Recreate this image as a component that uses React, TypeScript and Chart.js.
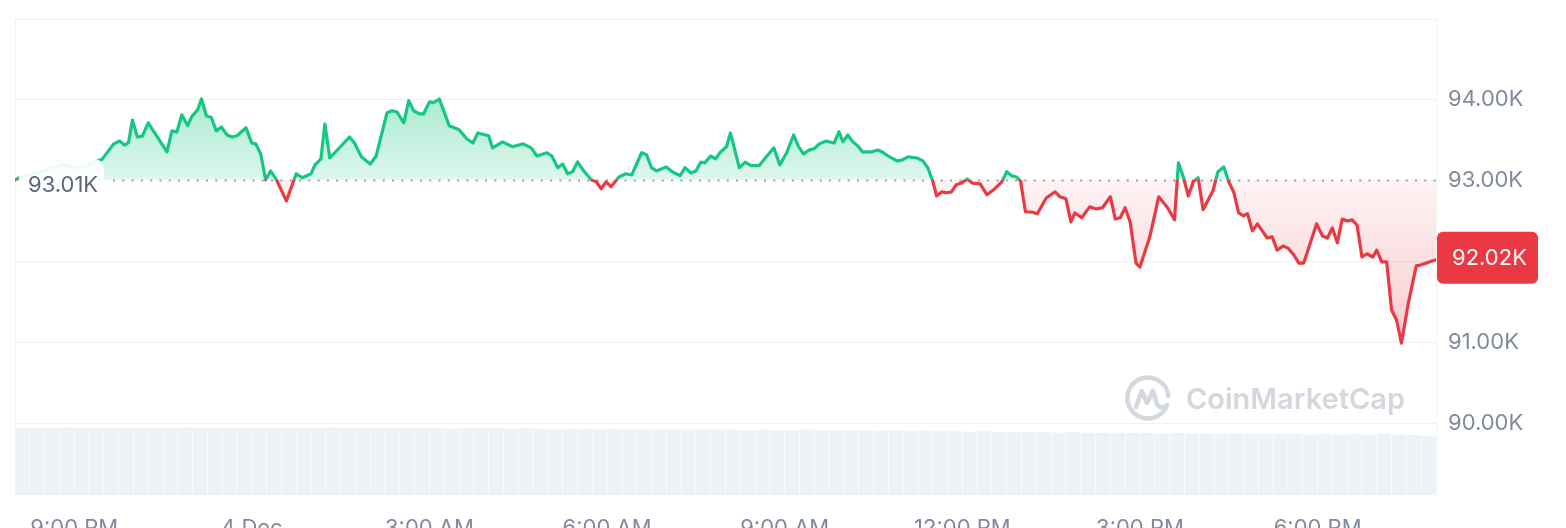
import React, { useEffect, useRef } from 'react';
import { Chart, registerables } from 'chart.js';

Chart.register(...registerables);

const GREEN = '#16c784';
const RED = '#ea3943';
const GRID = '#eff2f5';
const AXIS_TEXT = '#808a9d';
const FONT = 'Inter, "Noto Sans", sans-serif';

// minutes since 3 Dec 8:00 PM
const timeMinutes = [
  0, 9, 24, 39, 49, 63, 75, 82, 88, 100,
  106, 111, 115, 119, 124, 129, 135, 154, 159, 164,
  169, 175, 179, 185, 189, 194, 199, 204, 209, 215,
  220, 225, 234, 240, 244, 249, 254, 259, 265, 275,
  285, 291, 300, 304, 310, 314, 319, 339, 344, 351,
  360, 366, 377, 382, 387, 394, 399, 404, 410, 414,
  420, 424, 430, 440, 450, 458, 464, 469, 480, 484,
  494, 504, 515, 523, 529, 539, 544, 550, 555, 560,
  565, 570, 577, 584, 589, 594, 599, 604, 612, 619,
  625, 635, 640, 645, 650, 660, 666, 674, 679, 685,
  690, 695, 699, 705, 710, 715, 721, 725, 734, 740,
  746, 754, 762, 769, 775, 782, 789, 794, 799, 805,
  810, 815, 822, 830, 835, 839, 844, 849, 854, 859,
  868, 874, 879, 886, 894, 899, 905, 914, 920, 925,
  930, 934, 939, 944, 949, 954, 959, 965, 970, 978,
  985, 993, 1000, 1005, 1010, 1015, 1019, 1024, 1031, 1036,
  1045, 1054, 1059, 1065, 1070, 1074, 1081, 1089, 1096, 1102,
  1110, 1115, 1120, 1125, 1130, 1136, 1140, 1150, 1159, 1168,
  1175, 1179, 1184, 1189, 1194, 1199, 1204, 1214, 1219, 1225,
  1230, 1235, 1240, 1245, 1249, 1254, 1259, 1269, 1274, 1279,
  1285, 1290, 1296, 1301, 1306, 1319, 1325, 1330, 1335, 1340,
  1345, 1350, 1355, 1360, 1365, 1370, 1376, 1380, 1385, 1390,
  1395, 1400, 1405, 1412, 1420, 1424, 1440,
];

// price in thousands USD
const prices = [
  93.01, 93.06, 93.1, 93.16, 93.2, 93.15, 93.19, 93.245, 93.26, 93.455,
  93.49, 93.44, 93.47, 93.75, 93.54, 93.55, 93.715, 93.355, 93.615, 93.6,
  93.815, 93.68, 93.79, 93.875, 94.01, 93.8, 93.78, 93.615, 93.665, 93.565,
  93.54, 93.555, 93.655, 93.465, 93.455, 93.33, 93.01, 93.12, 93.01, 92.75,
  93.085, 93.035, 93.085, 93.195, 93.27, 93.7, 93.28, 93.54, 93.465, 93.295,
  93.205, 93.305, 93.84, 93.865, 93.85, 93.715, 93.99, 93.865, 93.825, 93.825,
  93.975, 93.965, 94.01, 93.68, 93.63, 93.515, 93.465, 93.59, 93.555, 93.405,
  93.48, 93.42, 93.455, 93.405, 93.305, 93.345, 93.305, 93.16, 93.205, 93.085,
  93.11, 93.23, 93.11, 93.01, 92.985, 92.9, 92.985, 92.925, 93.045, 93.085,
  93.07, 93.345, 93.32, 93.16, 93.12, 93.17, 93.11, 93.06, 93.16, 93.095,
  93.12, 93.23, 93.22, 93.305, 93.27, 93.355, 93.42, 93.59, 93.16, 93.23,
  93.185, 93.185, 93.305, 93.405, 93.195, 93.345, 93.565, 93.42, 93.33, 93.38,
  93.395, 93.455, 93.49, 93.465, 93.605, 93.48, 93.565, 93.48, 93.43, 93.355,
  93.355, 93.38, 93.355, 93.295, 93.245, 93.255, 93.295, 93.28, 93.245, 93.16,
  92.995, 92.81, 92.86, 92.85, 92.86, 92.95, 92.97, 93.02, 92.97, 92.96,
  92.825, 92.9, 92.985, 93.11, 93.06, 93.045, 92.995, 92.615, 92.61, 92.59,
  92.785, 92.86, 92.8, 92.775, 92.49, 92.6, 92.54, 92.675, 92.65, 92.665,
  92.8, 92.525, 92.54, 92.665, 92.49, 91.98, 91.93, 92.305, 92.8, 92.665,
  92.515, 93.22, 93.045, 92.81, 92.985, 93.035, 92.64, 92.875, 93.11, 93.17,
  92.985, 92.86, 92.6, 92.565, 92.59, 92.38, 92.465, 92.29, 92.305, 92.14,
  92.19, 92.165, 92.08, 91.98, 91.98, 92.465, 92.315, 92.29, 92.415, 92.23,
  92.525, 92.5, 92.515, 92.45, 92.055, 92.095, 92.055, 92.14, 91.995, 91.995,
  91.4, 91.275, 90.99, 91.485, 91.945, 91.955, 92.02,
];

// trading volume per 15-minute interval (relative units)
const volumeIntervalMinutes = 15;
const volumes = [
  141, 140, 141, 142, 141, 140, 141, 141, 140, 141, 141, 142, 140, 141, 141, 140,
  141, 140, 141, 141, 140, 142, 141, 140, 141, 140, 141, 141, 140, 139, 140, 141,
  140, 139, 140, 139, 138, 139, 139, 138, 139, 138, 138, 137, 138, 137, 138, 137,
  137, 136, 137, 136, 136, 137, 136, 135, 136, 135, 135, 136, 134, 135, 134, 134,
  133, 134, 133, 132, 133, 132, 131, 132, 131, 130, 131, 130, 130, 129, 130, 129,
  129, 128, 129, 128, 128, 129, 128, 127, 128, 127, 128, 127, 128, 127, 126, 124,
];

const xTickMinutes = [60, 240, 420, 600, 780, 960, 1140, 1320];
const xTickLabels = ['9:00 PM', '4 Dec', '3:00 AM', '6:00 AM', '9:00 AM', '12:00 PM', '3:00 PM', '6:00 PM'];
const yTickValues = [90, 91, 92, 93, 94, 95];
const hiddenYTick = 95;
const openPrice = 93.01;
const lastPrice = 92.02;
const watermarkText = 'CoinMarketCap';

const fmtK = (v: number) => v.toFixed(2) + 'K';

const overlayPlugin = {
  id: 'cmcOverlay',
  beforeDatasetsDraw(chart: any) {
    const { ctx, chartArea: a, scales } = chart;
    const y0 = Math.round(scales.y.getPixelForValue(openPrice)) + 0.5;
    ctx.save();
    // left frame line
    ctx.strokeStyle = GRID;
    ctx.lineWidth = 1;
    ctx.beginPath();
    ctx.moveTo(a.left + 0.5, a.top);
    ctx.lineTo(a.left + 0.5, a.bottom);
    ctx.stroke();

    // watermark
    const wmColor = '#d3d8df';
    ctx.font = `600 29px ${FONT}`;
    ctx.fillStyle = wmColor;
    ctx.textAlign = 'right';
    ctx.textBaseline = 'middle';
    const tx = a.right - 31;
    const ty = 400;
    ctx.fillText(watermarkText, tx, ty);
    const tw = ctx.measureText(watermarkText).width;
    const cx = tx - tw - 38;
    const cy = 398;
    ctx.strokeStyle = wmColor;
    ctx.lineWidth = 4.5;
    ctx.lineCap = 'round';
    ctx.lineJoin = 'round';
    ctx.beginPath();
    ctx.arc(cx, cy, 20.5, 0.15 * Math.PI, 1.97 * Math.PI);
    ctx.stroke();
    ctx.beginPath();
    ctx.moveTo(cx - 12, cy + 9);
    ctx.lineTo(cx - 6, cy - 7);
    ctx.lineTo(cx - 1, cy + 5);
    ctx.lineTo(cx + 5, cy - 7);
    ctx.lineTo(cx + 9, cy + 6);
    ctx.quadraticCurveTo(cx + 13, cy + 12, cx + 19, cy + 7);
    ctx.stroke();

    // dotted reference line at opening price
    ctx.setLineDash([2, 7.3]);
    ctx.lineCap = 'butt';
    ctx.strokeStyle = '#9aa1ab';
    ctx.lineWidth = 2;
    ctx.beginPath();
    ctx.moveTo(a.left + 98, y0);
    ctx.lineTo(a.right, y0);
    ctx.stroke();
    ctx.restore();
  },
  afterDatasetsDraw(chart: any) {
    const { ctx, chartArea: a, scales } = chart;
    const y0 = scales.y.getPixelForValue(openPrice);
    const text = fmtK(openPrice);
    ctx.save();
    ctx.font = `22px ${FONT}`;
    const tw = ctx.measureText(text).width;
    ctx.fillStyle = 'rgba(255,255,255,0.93)';
    ctx.beginPath();
    ctx.roundRect(a.left + 4, y0 - 21, tw + 15, 48, 10);
    ctx.fill();
    ctx.fillStyle = '#58667e';
    ctx.textAlign = 'left';
    ctx.textBaseline = 'middle';
    ctx.fillText(text, a.left + 13, y0 + 6);
    ctx.restore();
  },
  afterDraw(chart: any) {
    const { ctx, chartArea: a, scales } = chart;
    const yl = scales.y.getPixelForValue(lastPrice);
    ctx.save();
    ctx.fillStyle = RED;
    ctx.beginPath();
    ctx.roundRect(a.right + 1, yl - 28, 101, 52, 6);
    ctx.fill();
    ctx.font = `22px ${FONT}`;
    ctx.fillStyle = '#ffffff';
    ctx.textAlign = 'left';
    ctx.textBaseline = 'middle';
    ctx.fillText(fmtK(lastPrice), a.right + 16, yl - 1);
    ctx.restore();
  },
};

export default function App() {
  const canvasRef = useRef<HTMLCanvasElement | null>(null);

  useEffect(() => {
    const canvas = canvasRef.current;
    if (!canvas) return;
    Chart.defaults.font.family = FONT;

    const chart = new Chart(canvas, {
      data: {
        datasets: [
          {
            type: 'line',
            data: timeMinutes.map((m, i) => ({ x: m, y: prices[i] })),
            yAxisID: 'y',
            borderColor: GREEN,
            borderWidth: 3.2,
            borderJoinStyle: 'round',
            borderCapStyle: 'round',
            pointRadius: 0,
            tension: 0,
            fill: { target: { value: openPrice }, above: 'rgba(22,199,132,0.2)', below: 'rgba(234,57,67,0.1)' },
            order: 1,
          } as any,
          {
            type: 'bar',
            data: volumes.map((v, i) => ({ x: i * volumeIntervalMinutes + volumeIntervalMinutes / 2, y: v })),
            yAxisID: 'yv',
            backgroundColor: '#eff2f5',
            barPercentage: 0.96,
            categoryPercentage: 1,
            order: 2,
          } as any,
        ],
      },
      options: {
        animation: false,
        responsive: false,
        events: [],
        layout: { padding: { left: 15, top: 19, right: 0, bottom: 0 } },
        plugins: { legend: { display: false }, tooltip: { enabled: false } },
        scales: {
          x: {
            type: 'linear',
            min: 0,
            max: 1440,
            offset: false,
            position: 'bottom',
            grid: { display: false, offset: false },
            border: { display: false },
            afterBuildTicks: (s: any) => {
              s.ticks = xTickMinutes.map((v) => ({ value: v }));
            },
            afterFit: (s: any) => {
              s.height = 38;
              s.paddingLeft = 0;
              s.paddingRight = 0;
            },
            ticks: {
              autoSkip: false,
              maxRotation: 0,
              padding: 12,
              color: AXIS_TEXT,
              font: { size: 22, family: FONT },
              callback: (_v: any, i: number) => xTickLabels[i],
            },
          },
          y: {
            type: 'linear',
            position: 'right',
            min: 89.11,
            max: 95,
            afterBuildTicks: (s: any) => {
              s.ticks = yTickValues.map((v) => ({ value: v }));
            },
            afterFit: (s: any) => {
              s.width = 130;
              s.paddingTop = 0;
              s.paddingBottom = 0;
            },
            grid: {
              drawTicks: false,
              color: (c: any) => (c.tick && c.tick.value === 93 ? 'rgba(0,0,0,0)' : GRID),
              lineWidth: 1,
            },
            border: { display: true, color: GRID },
            ticks: {
              padding: 12,
              color: AXIS_TEXT,
              font: { size: 22, family: FONT },
              callback: (v: any) => (v === hiddenYTick ? '' : fmtK(Number(v))),
            },
          },
          yv: {
            type: 'linear',
            display: false,
            min: 0,
            max: 1000,
          },
        },
      },
      plugins: [overlayPlugin],
    } as any);

    // gradients need the laid-out chart area
    const ctx = chart.ctx;
    const ys = chart.scales.y;
    const ca = chart.chartArea;
    const y0 = ys.getPixelForValue(openPrice);
    const gUp = ctx.createLinearGradient(0, ys.getPixelForValue(94), 0, y0);
    gUp.addColorStop(0, 'rgba(22,199,132,0.36)');
    gUp.addColorStop(1, 'rgba(22,199,132,0.14)');
    const gDn = ctx.createLinearGradient(0, y0, 0, ys.getPixelForValue(91));
    gDn.addColorStop(0, 'rgba(234,57,67,0.06)');
    gDn.addColorStop(1, 'rgba(234,57,67,0.26)');
    const f = Math.min(1, Math.max(0, (y0 - ca.top) / (ca.bottom - ca.top)));
    const gLine = ctx.createLinearGradient(0, ca.top, 0, ca.bottom);
    gLine.addColorStop(0, GREEN);
    gLine.addColorStop(f, GREEN);
    gLine.addColorStop(f, RED);
    gLine.addColorStop(1, RED);
    const ds: any = chart.data.datasets[0];
    ds.fill = { target: { value: openPrice }, above: gUp, below: gDn };
    ds.borderColor = gLine;
    chart.update();

    return () => chart.destroy();
  }, []);

  return (
    <div style={{ position: 'fixed', left: 0, top: 0, width: 1566, height: 533, background: '#fff' }}>
      <canvas ref={canvasRef} width={1566} height={533} style={{ display: 'block' }} />
    </div>
  );
}
